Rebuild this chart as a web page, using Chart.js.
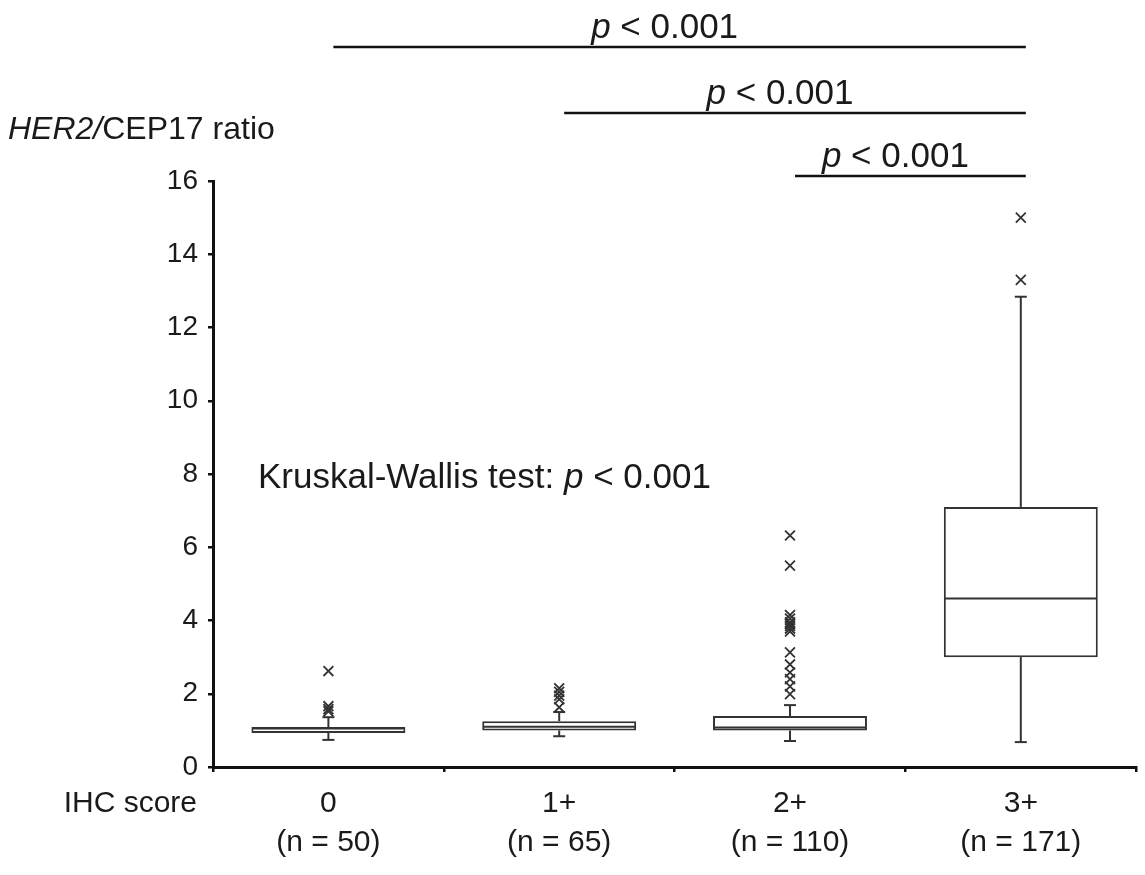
<!DOCTYPE html>
<html>
<head>
<meta charset="utf-8">
<script src="https://cdn.jsdelivr.net/npm/chart.js@4.4.1/dist/chart.umd.min.js"></script>
<style>
  body { margin: 0; background: #fff; }
  #wrap { width: 1145px; height: 875px; position: relative; }
</style>
</head>
<body>
<div id="wrap"><canvas id="boxChart"></canvas></div>
<script>
// IHC groups and the box statistics
const categories = ['0', '1+', '2+', '3+'];
const counts = [50, 65, 110, 171];
const q1 = [0.93, 1.0, 1.0, 3.0];
const median = [1.05, 1.1, 1.08, 4.6];
const q3 = [1.09, 1.25, 1.39, 7.1];
const whiskerLow = [0.74, 0.84, 0.71, 0.68];
const whiskerHigh = [1.36, 1.5, 1.69, 12.84];
const outliers0 = [2.62, 1.66, 1.58, 1.52];
const outliers1 = [2.15, 2.05, 1.95, 1.85, 1.63];
const outliers2 = [6.32, 5.5, 4.15, 4.05, 3.95, 3.9, 3.85, 3.78, 3.7, 3.13, 2.8, 2.58, 2.4, 2.2, 1.99];
const outliers3 = [15.0, 13.3];
const yTicks = [0, 2, 4, 6, 8, 10, 12, 14, 16];
// pairwise comparisons between groups (index pairs)
const comparisons = [[0, 3], [1, 3], [2, 3]];

const FONT = "'Liberation Sans', Arial, sans-serif";
Chart.defaults.font.family = FONT;
Chart.defaults.color = '#1a1a1a';

const outlierPoints = [];
[outliers0, outliers1, outliers2, outliers3].forEach((list, i) => {
    list.forEach(v => outlierPoints.push({ x: categories[i], y: v }));
});

// Draws medians and whiskers on top of the floating bars
const boxExtras = {
    id: 'boxExtras',
    afterDatasetsDraw(chart) {
        const { ctx, scales: { y } } = chart;
        const meta = chart.getDatasetMeta(0);
        ctx.save();
        ctx.strokeStyle = '#333';
        ctx.lineWidth = 2;
        const seg = (x1, y1, x2, y2) => {
            ctx.beginPath();
            ctx.moveTo(x1, y1);
            ctx.lineTo(x2, y2);
            ctx.stroke();
        };
        categories.forEach((c, i) => {
            const bar = meta.data[i];
            const cx = bar.x, hw = bar.width / 2;
            const yMed = y.getPixelForValue(median[i]);
            seg(cx - hw + 1, yMed, cx + hw - 1, yMed);
            const yHi = y.getPixelForValue(whiskerHigh[i]);
            const yLo = y.getPixelForValue(whiskerLow[i]);
            seg(cx, y.getPixelForValue(q3[i]), cx, yHi);
            seg(cx, y.getPixelForValue(q1[i]), cx, yLo);
            seg(cx - 6, yHi, cx + 6, yHi);
            seg(cx - 6, yLo, cx + 6, yLo);
        });
        ctx.restore();
    }
};

// Axis titles, Kruskal-Wallis note and the significance bars
const annotations = {
    id: 'annotations',
    afterDraw(chart) {
        const { ctx, scales: { x } } = chart;
        ctx.save();
        ctx.fillStyle = '#1a1a1a';
        ctx.textBaseline = 'alphabetic';

        // y axis title with italic gene name
        ctx.font = `italic 32px ${FONT}`;
        ctx.textAlign = 'left';
        ctx.fillText('HER2/', 8, 139);
        let w = ctx.measureText('HER2/').width;
        ctx.font = `32px ${FONT}`;
        ctx.fillText('CEP17 ratio', 8 + w, 139);

        // x axis title
        ctx.textAlign = 'right';
        ctx.textBaseline = 'middle';
        ctx.font = `30px ${FONT}`;
        ctx.fillText('IHC score', 197, 804);

        // mixed style text: normal + italic p + normal
        const pText = (parts, left, base, size) => {
            let px = left;
            ctx.textAlign = 'left';
            ctx.textBaseline = 'alphabetic';
            parts.forEach(([t, it]) => {
                ctx.font = `${it ? 'italic ' : ''}${size}px ${FONT}`;
                ctx.fillText(t, px, base);
                px += ctx.measureText(t).width;
            });
            return px - left;
        };
        pText([['Kruskal-Wallis test: ', false], ['p', true], [' < 0.001', false]], 258, 488, 35);

        // significance bars
        const barY = [47, 113, 176];
        ctx.strokeStyle = '#111';
        ctx.lineWidth = 2.5;
        comparisons.forEach(([a, b], k) => {
            const x1 = x.getPixelForValue(a) + 5;
            const x2 = x.getPixelForValue(b) + 5;
            ctx.beginPath();
            ctx.moveTo(x1, barY[k]);
            ctx.lineTo(x2, barY[k]);
            ctx.stroke();
            ctx.font = `35px ${FONT}`;
            const tw = ctx.measureText('p < 0.001').width;
            const mid = (x1 + x2) / 2 - 15;
            pText([['p', true], [' < 0.001', false]], mid - tw / 2, barY[k] - 9, 35);
        });
        ctx.restore();
    }
};

const ctx = document.getElementById('boxChart').getContext('2d');
const boxChart = new Chart(ctx, {
    type: 'bar',
    data: {
        labels: categories.map((c, i) => [c, `(n = ${counts[i]})`]),
        datasets: [{
            label: 'IQR',
            data: categories.map((c, i) => [q1[i], q3[i]]),
            backgroundColor: '#ffffff',
            borderColor: '#333',
            borderWidth: 2,
            borderSkipped: false,
            categoryPercentage: 1,
            barPercentage: 0.667
        }, {
            type: 'line',
            label: 'Outliers',
            data: outlierPoints,
            showLine: false,
            pointStyle: 'crossRot',
            pointRadius: 7,
            borderColor: '#333',
            borderWidth: 1.8,
            backgroundColor: '#333'
        }]
    },
    options: {
        responsive: true,
        maintainAspectRatio: false,
        animation: false,
        layout: { padding: { top: 181, right: 8, left: 0, bottom: 0 } },
        plugins: {
            legend: { display: false },
            tooltip: { enabled: false }
        },
        scales: {
            x: {
                labels: categories,
                offset: true,
                grid: { offset: true, drawOnChartArea: false, tickLength: 5, color: '#111', lineWidth: 2.5 },
                border: { color: '#111', width: 3 },
                ticks: {
                    padding: 12,
                    font: { size: 30, lineHeight: 1.3 },
                    color: '#1a1a1a',
                    maxRotation: 0,
                    callback: (v, i) => [categories[i], `(n = ${counts[i]})`]
                },
                afterFit: s => { s.height = 108; }
            },
            y: {
                min: 0,
                max: 16,
                afterBuildTicks: s => { s.ticks = yTicks.map(v => ({ value: v })); },
                grid: { drawOnChartArea: false, tickLength: 5, color: '#111', lineWidth: 2.5 },
                border: { color: '#111', width: 3 },
                ticks: { padding: 10, font: { size: 28 }, color: '#1a1a1a' },
                afterFit: s => { s.width = 213; }
            }
        }
    },
    plugins: [boxExtras, annotations]
});
</script>
</body>
</html>
